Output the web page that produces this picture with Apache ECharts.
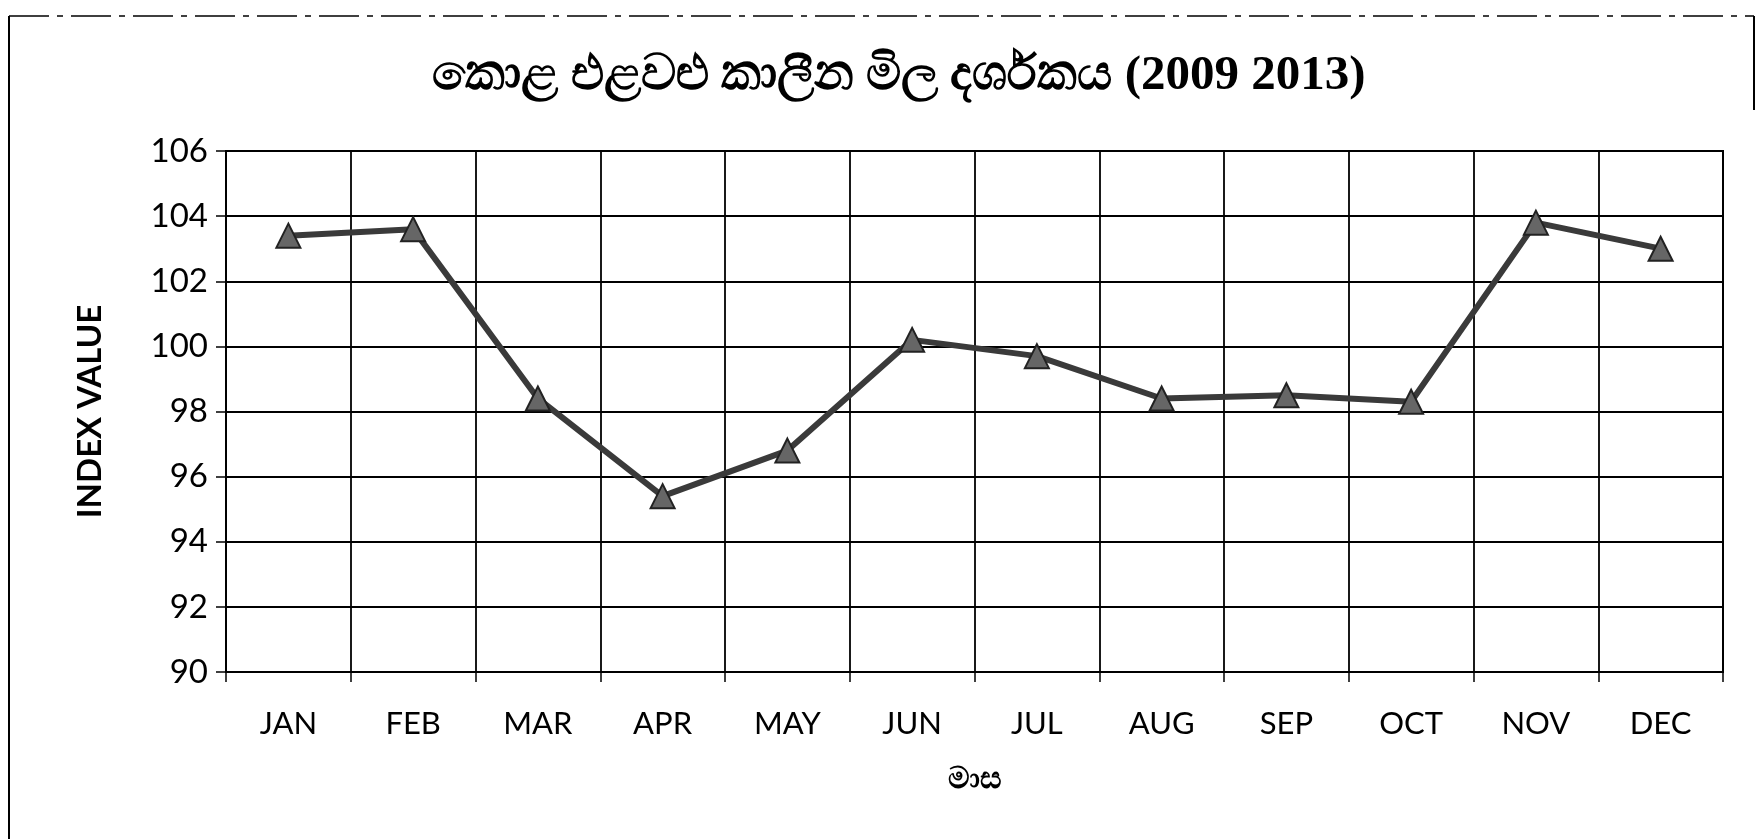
<!DOCTYPE html>
<html>
<head>
<meta charset="utf-8">
<script src="https://cdn.jsdelivr.net/npm/echarts@6/dist/echarts.min.js"></script>
<style>
html,body{margin:0;padding:0;background:#fff;}
#c{width:1763px;height:839px;}
</style>
</head>
<body>
<div id="c"></div>
<script>
const titleText = 'කොළ එළවළු කාලීන මිල දර්ශකය (2009 2013)';
const xName = 'මාස';
const yName = 'INDEX VALUE';
const months = ['JAN','FEB','MAR','APR','MAY','JUN','JUL','AUG','SEP','OCT','NOV','DEC'];
const indexValues = [103.4, 103.6, 98.4, 95.4, 96.8, 100.2, 99.7, 98.4, 98.5, 98.3, 103.8, 103.0];
const yMin = 90, yMax = 106, yStep = 2;

const chart = echarts.init(document.getElementById('c'), null, {renderer:'canvas'});
chart.setOption({
  backgroundColor:'#fff',
  animation:false,
  title:{
    text:titleText, left:894, top:47, textAlign:'center',
    textStyle:{fontFamily:'"Liberation Serif", "Noto Sans", serif', fontWeight:'bold', fontSize:49, color:'#000'}
  },
  graphic:[
    {type:'line', shape:{x1:9,y1:16,x2:9,y2:839}, style:{stroke:'#000', lineWidth:2}},
    {type:'line', shape:{x1:9,y1:16,x2:1754,y2:16}, style:{stroke:'#000', lineWidth:1.5, lineDash:[40,8,6,8]}},
    {type:'line', shape:{x1:1754,y1:16,x2:1754,y2:110}, style:{stroke:'#000', lineWidth:2}}
  ],
  grid:{left:226, right:40, top:151, bottom:167, show:true, borderColor:'#000', borderWidth:2},
  xAxis:{
    type:'category', data:months, boundaryGap:true,
    name:xName, nameLocation:'middle', nameGap:92,
    nameTextStyle:{fontFamily:'"Noto Sans", sans-serif', fontWeight:'bold', fontSize:30, color:'#000'},
    axisLine:{show:true, lineStyle:{color:'#000', width:2}},
    axisTick:{show:true, length:10, lineStyle:{color:'#000', width:1.5}},
    axisLabel:{margin:36, fontFamily:'Lato, "Open Sans", sans-serif', fontSize:31, color:'#000'},
    splitLine:{show:true, lineStyle:{color:'#000', width:1.8}}
  },
  yAxis:{
    type:'value', min:yMin, max:yMax, interval:yStep,
    name:yName, nameLocation:'middle', nameGap:119,
    nameTextStyle:{fontFamily:'Lato, "Open Sans", sans-serif', fontWeight:'bold', fontSize:33, color:'#000'},
    axisLine:{show:true, lineStyle:{color:'#000', width:2}},
    axisTick:{show:true, length:10, lineStyle:{color:'#000', width:1.5}},
    axisLabel:{margin:18, fontFamily:'Lato, "Open Sans", sans-serif', fontSize:33, color:'#000'},
    splitLine:{show:true, lineStyle:{color:'#000', width:2}}
  },
  series:[{
    type:'line', data:indexValues,
    symbol:'triangle', symbolSize:24,
    lineStyle:{color:'#3a3a3a', width:6},
    itemStyle:{color:'#666', borderColor:'#222', borderWidth:2},
    z:5
  }]
});
</script>
</body>
</html>
